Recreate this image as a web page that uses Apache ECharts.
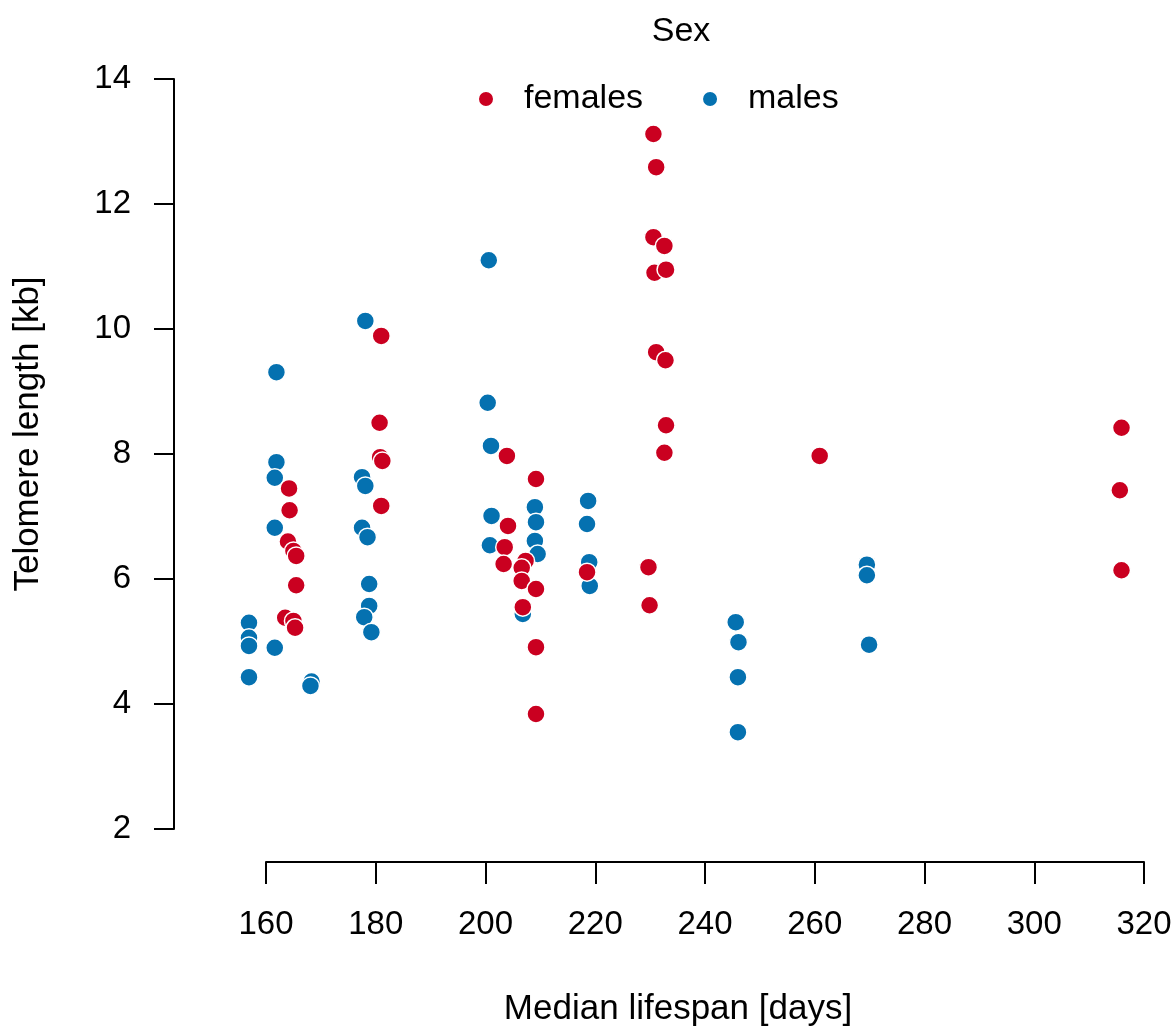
<!DOCTYPE html>
<html>
<head>
<meta charset="utf-8">
<script src="https://cdn.jsdelivr.net/npm/echarts@6/dist/echarts.min.js"></script>
<style>html,body{margin:0;padding:0;background:#fff;}#c{width:1175px;height:1032px;}</style>
</head>
<body>
<div id="c"></div>
<script>
const seriesNames = ['females', 'males'];
const xTicks = [160, 180, 200, 220, 240, 260, 280, 300, 320];
const yTicks = [2, 4, 6, 8, 10, 12, 14];

const femalesLifespan = [164.2,164.3,164.0,165.0,165.5,165.5,163.5,165.0,165.3,
  181.0,180.7,180.8,181.2,181.0,
  203.9,209.2,204.1,203.5,207.3,203.3,206.6,206.6,209.2,206.8,209.2,209.2,
  218.5,
  230.6,231.1,230.6,232.6,230.8,232.9,231.1,232.8,232.9,232.6,229.7,229.9,
  260.9,315.9,315.6,315.9];
const femalesTelomere = [7.45,7.10,6.60,6.45,6.37,5.90,5.38,5.33,5.22,
  9.89,8.50,7.95,7.89,7.17,
  7.97,7.60,6.85,6.51,6.29,6.24,6.18,5.97,5.84,5.55,4.91,3.84,
  6.11,
  13.12,12.59,11.47,11.33,10.90,10.95,9.63,9.50,8.46,8.02,6.19,5.58,
  7.97,8.42,7.42,6.14];

const malesLifespan = [156.9,156.9,156.9,156.9,
  161.9,161.9,161.6,161.6,161.6,168.3,168.1,
  178.1,177.5,178.1,177.5,178.5,178.8,178.8,177.9,179.2,
  200.6,200.4,201.0,209.0,201.1,209.2,200.8,209.0,209.5,206.8,
  218.7,218.5,218.9,219.0,
  245.6,246.1,246.0,246.0,
  269.5,269.5,269.9];
const malesTelomere = [5.30,5.06,4.93,4.43,
  9.31,7.87,7.62,6.82,4.90,4.36,4.29,
  10.13,7.63,7.49,6.82,6.67,5.92,5.57,5.39,5.15,
  11.10,8.82,8.13,7.15,7.01,6.91,6.54,6.61,6.40,5.44,
  7.25,6.88,6.27,5.89,
  5.31,4.99,4.43,3.55,
  6.23,6.06,4.95];

const pair = (xs, ys) => xs.map((x, i) => [x, ys[i]]);
const FONT = 'Liberation Sans, Arial, Helvetica, sans-serif';
const RED = '#CA0020', BLUE = '#0571B0';

const chart = echarts.init(document.getElementById('c'), null, {renderer: 'canvas'});
chart.setOption({
  backgroundColor: '#ffffff',
  animation: false,
  title: {
    text: 'Sex', left: 676, top: 10, textAlign: 'center',
    textStyle: {fontFamily: FONT, fontSize: 34, fontWeight: 'normal', color: '#000'}
  },
  legend: {
    data: [seriesNames[0], seriesNames[1]],
    left: 472, top: 77,
    icon: 'circle', itemWidth: 16, itemHeight: 16, itemGap: 58,
    textStyle: {fontFamily: FONT, fontSize: 34, color: '#000', padding: [0, 0, 0, 25]}
  },
  grid: {left: 266, right: 31, top: 79, bottom: 202},
  xAxis: {
    type: 'value', min: 160, max: 320, interval: 20, offset: 33,
    splitLine: {show: false},
    axisLine: {show: true, onZero: false, lineStyle: {color: '#000', width: 2}},
    axisTick: {show: true, length: 22, lineStyle: {color: '#000', width: 2}},
    axisLabel: {fontFamily: FONT, fontSize: 33, color: '#000', margin: 46,
      formatter: v => xTicks.includes(v) ? String(v) : ''},
    name: 'Median lifespan [days]', nameLocation: 'middle', nameGap: 130,
    nameTextStyle: {fontFamily: FONT, fontSize: 35, color: '#000', padding: [0, 54, 0, 0]}
  },
  yAxis: {
    type: 'value', min: 2, max: 14, interval: 2, offset: 92,
    splitLine: {show: false},
    axisLine: {show: true, onZero: false, lineStyle: {color: '#000', width: 2}},
    axisTick: {show: true, length: 20, lineStyle: {color: '#000', width: 2}},
    axisLabel: {fontFamily: FONT, fontSize: 33, color: '#000', margin: 43,
      formatter: v => yTicks.includes(v) ? String(v) : ''},
    name: 'Telomere length [kb]', nameLocation: 'middle', nameGap: 128, nameRotate: 90,
    nameTextStyle: {fontFamily: FONT, fontSize: 35, color: '#000', padding: [0, 0, 0, 40]}
  },
  series: [
    {
      name: seriesNames[1], type: 'scatter', clip: false,
      data: pair(malesLifespan, malesTelomere),
      symbolSize: 18,
      itemStyle: {color: BLUE, borderColor: '#fff', borderWidth: 1.5, opacity: 1}
    },
    {
      name: seriesNames[0], type: 'scatter', clip: false,
      data: pair(femalesLifespan, femalesTelomere),
      symbolSize: 18,
      itemStyle: {color: RED, borderColor: '#fff', borderWidth: 1.5, opacity: 1}
    }
  ]
});
</script>
</body>
</html>
